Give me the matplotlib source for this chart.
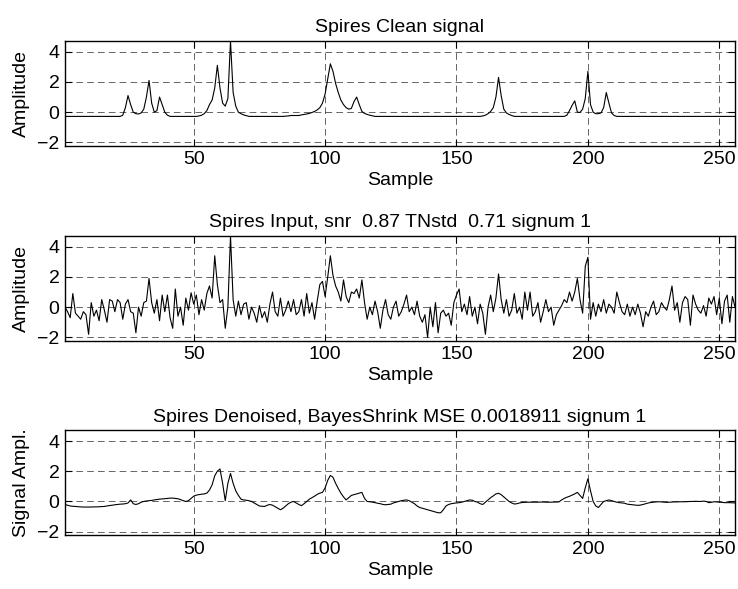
import matplotlib.pyplot as plt
import numpy as np

# Spires: clean / noisy input / denoised (256 samples)

clean = [
    -0.28, -0.28, -0.28, -0.28, -0.28, -0.28, -0.28, -0.28, -0.28, -0.28,
    -0.28, -0.28, -0.28, -0.28, -0.28, -0.28, -0.28, -0.28, -0.28, -0.28,
    -0.28, -0.28, -0.2, 0.3, 1.1, 0.5, 0.0, -0.1, -0.12, -0.05,
    0.2, 1.0, 2.1, 0.6, 0.0, 0.1, 1.0, 0.5, 0.0, -0.2,
    -0.28, -0.28, -0.28, -0.28, -0.28, -0.28, -0.28, -0.28, -0.28, -0.28,
    -0.28, -0.25, -0.2, -0.1, 0.1, 0.5, 0.8, 1.6, 3.1, 1.6,
    0.6, 0.4, 0.9, 4.7, 1.3, 0.4, 0.0, -0.1, -0.18, -0.23,
    -0.28, -0.28, -0.28, -0.28, -0.28, -0.28, -0.28, -0.28, -0.28, -0.28,
    -0.28, -0.28, -0.28, -0.28, -0.26, -0.25, -0.22, -0.22, -0.22, -0.22,
    -0.18, -0.15, -0.12, -0.08, -0.02, 0.05, 0.15, 0.3, 0.6, 1.2,
    2.2, 3.2, 2.7, 1.9, 1.3, 0.8, 0.5, 0.3, 0.2, 0.25,
    0.7, 1.0, 0.5, 0.05, -0.08, -0.15, -0.2, -0.24, -0.28, -0.28,
    -0.28, -0.28, -0.28, -0.28, -0.28, -0.28, -0.28, -0.28, -0.28, -0.28,
    -0.28, -0.28, -0.28, -0.28, -0.28, -0.28, -0.28, -0.28, -0.28, -0.28,
    -0.28, -0.28, -0.28, -0.28, -0.28, -0.28, -0.28, -0.28, -0.28, -0.28,
    -0.28, -0.28, -0.28, -0.28, -0.28, -0.28, -0.28, -0.28, -0.28, -0.25,
    -0.2, -0.1, 0.05, 0.3, 1.0, 2.3, 1.1, 0.2, -0.05, -0.15,
    -0.22, -0.28, -0.28, -0.28, -0.28, -0.28, -0.28, -0.28, -0.28, -0.28,
    -0.28, -0.28, -0.28, -0.28, -0.28, -0.28, -0.28, -0.28, -0.28, -0.28,
    -0.28, -0.2, 0.1, 0.45, 0.75, 0.0, -0.02, 0.2, 0.9, 2.7,
    0.5, 0.0, -0.1, -0.1, -0.05, 0.3, 1.3, 0.6, -0.05, -0.22,
    -0.28, -0.28, -0.28, -0.28, -0.28, -0.28, -0.28, -0.28, -0.28, -0.28,
    -0.28, -0.28, -0.28, -0.28, -0.28, -0.28, -0.28, -0.28, -0.28, -0.28,
    -0.28, -0.28, -0.28, -0.28, -0.28, -0.28, -0.28, -0.28, -0.28, -0.28,
    -0.28, -0.28, -0.28, -0.28, -0.28, -0.28, -0.28, -0.28, -0.28, -0.28,
    -0.28, -0.28, -0.28, -0.28, -0.28, -0.28,
]

noisy = [
    0.0, -0.3, -0.7, 0.9, -0.4, -0.6, -0.8, -0.3, -0.5, -1.8,
    0.3, -0.6, -0.2, -0.9, 0.5, -0.2, -1.0, 0.5, 0.4, -0.3,
    0.5, 0.3, -0.8, 0.2, 0.5, -0.3, -0.4, -1.7, 0.0, -0.6,
    0.3, 0.4, 1.9, 0.3, -0.4, 0.5, -0.9, 0.8, -0.3, 0.8,
    -0.7, -1.4, 1.2, -0.6, 0.0, -1.2, 0.6, -0.2, 0.95, 0.2,
    0.8, -0.5, 0.5, -0.2, 0.9, 1.4, 0.6, 3.4, 1.5, 0.3,
    0.5, -1.4, 0.0, 4.7, 0.5, -0.6, 0.4, -0.5, 0.2, 0.3,
    -0.8, 0.0, -0.4, -1.0, 0.1, -0.7, -0.3, -1.0, 0.2, 1.0,
    -0.3, -0.6, 0.6, -0.6, -0.2, 0.4, -0.3, 0.5, -0.5, -0.3,
    0.5, -0.6, 0.9, -0.4, 0.3, -0.8, 0.4, 1.5, 1.7, 0.7,
    2.0, 3.4, 2.1, 1.4, 1.0, 0.4, 1.8, 0.7, 0.3, 1.0,
    0.9, 1.2, 0.6, 1.8, 0.3, -0.8, 0.0, -0.5, 0.4, -0.3,
    -1.4, -0.2, 0.5, -0.5, -0.8, 0.0, 0.4, -0.6, -0.3, 0.2,
    0.8, -0.3, 0.0, -0.5, 0.4, -0.6, -1.0, -0.5, -2.0, 0.0,
    -1.3, 0.3, -1.7, -0.4, -0.2, -0.6, -0.4, -1.2, 0.3, 0.8,
    1.2, -0.3, 0.2, -0.5, 0.7, -0.6, 0.0, -1.1, 0.2, -0.4,
    -1.8, 0.0, 0.8, -0.3, 0.6, 2.2, 0.5, -0.4, 0.5, -0.6,
    -0.2, 0.9, -0.4, 0.0, -0.8, 1.0, -0.2, 1.0, -0.6, -0.3,
    0.3, -1.0, -0.3, 0.5, -0.3, 0.0, -1.2, -0.5, -0.2, 0.1,
    0.5, 0.3, 1.0, 0.4, 1.0, 1.9, 0.5, -0.4, 2.7, 3.3,
    -0.8, 0.3, -0.6, 0.2, -0.3, 0.5, -0.4, 0.2, 0.0, -0.4,
    1.0, 0.3, -0.3, -0.5, 0.2, -0.6, 0.0, -0.5, 0.2, -0.4,
    -1.3, -0.3, -0.6, 0.0, 0.4, -0.5, -0.3, 0.3, 0.0, -0.2,
    0.5, 1.4, -0.2, 0.3, -1.0, 0.3, 0.7, 0.5, -1.2, 0.8,
    0.2, -0.2, -0.4, 0.1, -0.6, 0.6, 0.2, 0.7, -0.5, 0.6,
    -1.1, 0.4, 0.8, -1.0, 0.7, 0.0,
]

denoised = [
    -0.2, -0.25, -0.3, -0.32, -0.33, -0.35, -0.36, -0.37, -0.37, -0.37,
    -0.37, -0.36, -0.36, -0.35, -0.34, -0.33, -0.3, -0.27, -0.25, -0.22,
    -0.2, -0.18, -0.17, -0.15, -0.1, 0.1, -0.15, -0.2, -0.15, -0.05,
    0.0, 0.03, 0.05, 0.07, 0.1, 0.13, 0.15, 0.17, 0.18, 0.2,
    0.22, 0.22, 0.2, 0.18, 0.12, 0.05, 0.0, 0.05, 0.2, 0.35,
    0.42, 0.45, 0.48, 0.5, 0.55, 0.75, 1.1, 1.7, 2.0, 2.15,
    1.2, 0.05, 1.2, 1.85, 1.2, 0.7, 0.4, 0.15, 0.1, 0.08,
    0.05, 0.0, -0.1, -0.2, -0.3, -0.32, -0.33, -0.25, -0.2, -0.25,
    -0.35, -0.45, -0.55, -0.45, -0.3, -0.15, -0.05, 0.0, -0.1, -0.2,
    -0.28, -0.15, 0.0, 0.15, 0.25, 0.35, 0.47, 0.55, 0.6, 0.9,
    1.4, 1.72, 1.6, 1.2, 0.86, 0.55, 0.3, 0.1, 0.25, 0.4,
    0.45, 0.5, 0.55, 0.6, 0.2, 0.0, -0.02, -0.05, -0.08, -0.12,
    -0.15, -0.2, -0.22, -0.2, -0.18, -0.1, -0.05, 0.0, 0.05, 0.08,
    0.1, 0.05, -0.05, -0.15, -0.3, -0.4, -0.45, -0.5, -0.55, -0.6,
    -0.65, -0.7, -0.75, -0.75, -0.55, -0.3, -0.2, -0.15, -0.12, -0.1,
    -0.08, -0.05, 0.0, 0.05, 0.1, 0.08, 0.0, -0.05, -0.15, -0.2,
    -0.05, 0.1, 0.25, 0.37, 0.5, 0.54, 0.45, 0.3, 0.15, 0.0,
    -0.1, -0.17, -0.15, -0.1, -0.07, -0.06, -0.05, -0.05, -0.05, -0.05,
    -0.05, -0.04, -0.04, -0.05, -0.05, -0.05, -0.04, -0.04, -0.03, 0.1,
    0.2, 0.28, 0.34, 0.42, 0.5, 0.6, 0.4, 0.2, 0.9, 1.5,
    0.7, 0.0, -0.3, -0.4, -0.2, 0.0, 0.05, 0.1, 0.05, 0.0,
    -0.05, -0.08, -0.1, -0.12, -0.18, -0.2, -0.22, -0.24, -0.26, -0.24,
    -0.2, -0.15, -0.1, -0.07, -0.05, -0.03, -0.02, -0.03, -0.05, -0.06,
    -0.05, -0.04, -0.03, -0.03, -0.02, -0.02, -0.02, -0.01, 0.0, 0.0,
    0.01, 0.0, 0.0, 0.02, 0.0, -0.08, -0.06, -0.02, -0.03, -0.05,
    -0.06, -0.08, -0.08, -0.08, -0.09, -0.1,
]

titles = ['Spires Clean signal',
          'Spires Input, snr  0.87 TNstd  0.71 signum 1',
          'Spires Denoised, BayesShrink MSE 0.0018911 signum 1']
ylabels = ['Amplitude', 'Amplitude', 'Signal Ampl.']
series = [clean, noisy, denoised]

plt.rcParams['font.family'] = ['Liberation Sans', 'DejaVu Sans']
fs = 14

fig = plt.figure(figsize=(7.38, 5.89), dpi=100)
bottoms = [0.7526, 0.4216, 0.0917]

for k in range(3):
    ax = fig.add_axes([0.088, bottoms[k], 0.908, 0.1783])
    y = np.array(series[k])
    x = np.arange(1, len(y) + 1)
    ax.plot(x, y, color='black', lw=0.8)
    ax.set_xlim(1, 256)
    ax.set_ylim(-2.22, 4.73)
    ax.set_xticks([50, 100, 150, 200, 250])
    ax.set_yticks([-2, 0, 2, 4])
    ax.grid(True, color='black', linestyle=(0, (8, 5)), lw=0.6, alpha=0.7)
    ax.tick_params(direction='in', top=True, right=True, length=5,
                   labelsize=fs, pad=4)
    for s in ax.spines.values():
        s.set_linewidth(1.0)
    ax.set_title(titles[k], fontsize=fs, pad=6)
    ax.set_xlabel('Sample', fontsize=fs, labelpad=3)
    ax.set_ylabel(ylabels[k], fontsize=fs, labelpad=5)

fig.savefig('out.png', dpi=100)
